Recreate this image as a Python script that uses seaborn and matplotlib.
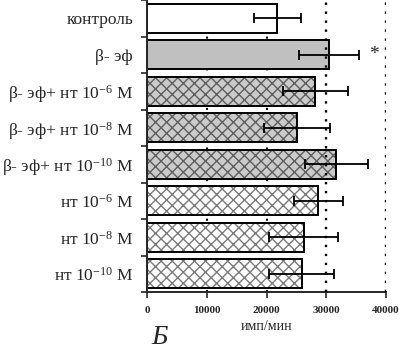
import seaborn as sns
import pandas as pd
import matplotlib.pyplot as plt
from matplotlib.colors import to_rgba

groups = ["контроль", "β- эф", "β- эф+ нт 10$^{-6}$ М", "β- эф+ нт 10$^{-8}$ М",
          "β- эф+ нт 10$^{-10}$ М", "нт 10$^{-6}$ М", "нт 10$^{-8}$ М", "нт 10$^{-10}$ М"]
means = [21800, 30500, 28200, 25100, 31700, 28700, 26200, 25900]
errs = [3900, 5000, 5500, 5600, 5300, 4100, 5700, 5400]
x_ticks = [0, 10000, 20000, 30000, 40000]

faces = ["white", "#c0c0c0", "#cbcbcb", "#cbcbcb", "#cbcbcb", "white", "white", "white"]
hatches = ["", "", "xxx", "xxx", "xxx", "xxx", "xxx", "xxx"]
hatch_cols = ["black", "black", "#5e5e5e", "#5e5e5e", "#5e5e5e", "#7a7a7a", "#7a7a7a", "#7a7a7a"]


def main():
    sns.set_style("ticks")
    plt.rcParams["font.family"] = ["Liberation Serif", "DejaVu Serif"]
    plt.rcParams["mathtext.fontset"] = "custom"
    plt.rcParams["mathtext.rm"] = "Liberation Serif"
    plt.rcParams["mathtext.it"] = "Liberation Serif:italic"
    plt.rcParams["hatch.linewidth"] = 1.0

    data = pd.DataFrame({"group": groups, "mean": means})

    fig = plt.figure(figsize=(4, 3.5), dpi=100)
    ax = fig.add_axes([0.3675, 0.1657, 0.5975, 0.8343])

    # faint grid at 10k/20k behind bars, only shows in the gaps
    for v in x_ticks[1:3]:
        ax.axvline(v, color="black", lw=1.5, ls=(0, (1, 2.8)), zorder=0)

    sns.barplot(data=data, x="mean", y="group", hue="group", palette=faces,
                orient="h", width=0.8, legend=False, ax=ax, zorder=2)
    for p, h, hc in zip(ax.patches, hatches, hatch_cols):
        p.set_edgecolor("black")
        p.set_linewidth(1.4)
        p.set_hatch(h)
        p._hatch_color = to_rgba(hc)

    ax.errorbar(means, range(len(groups)), xerr=errs, fmt="none", ecolor="black",
                elinewidth=1.3, capsize=3.5, capthick=1.3, zorder=4)

    for v in x_ticks[3:]:
        ax.axvline(v, color="black", lw=1.7, ls=(0, (1, 2.8)), zorder=5)

    ax.text(38000, 1, "*", fontsize=14, ha="center", va="center")

    ax.set_xlim(0, 40000)
    ax.set_ylim(7.5, -0.5)
    ax.set_xticks(x_ticks)
    ax.set_xticklabels([str(v) for v in x_ticks], fontsize=8, fontweight="bold")
    ax.set_yticks(range(len(groups)))
    ax.set_yticklabels(groups, fontsize=12.5)
    ax.set_yticks([i + 0.5 for i in range(-1, len(groups))], minor=True)
    ax.tick_params(axis="y", which="major", length=0, pad=10)
    ax.tick_params(axis="y", which="minor", length=4, width=1.2)
    ax.tick_params(axis="x", length=4, width=1.2, pad=6)
    ax.set_xlabel("имп/мин", fontsize=10, labelpad=4)
    ax.set_ylabel("")
    for s in ["left", "bottom"]:
        ax.spines[s].set_linewidth(1.4)
    sns.despine(ax=ax, top=True, right=True)

    fig.text(0.4, 0.0, "Б", fontsize=20, style="italic", ha="center", va="bottom")

    plt.savefig("out.png", dpi=100)


if __name__ == "__main__":
    main()
